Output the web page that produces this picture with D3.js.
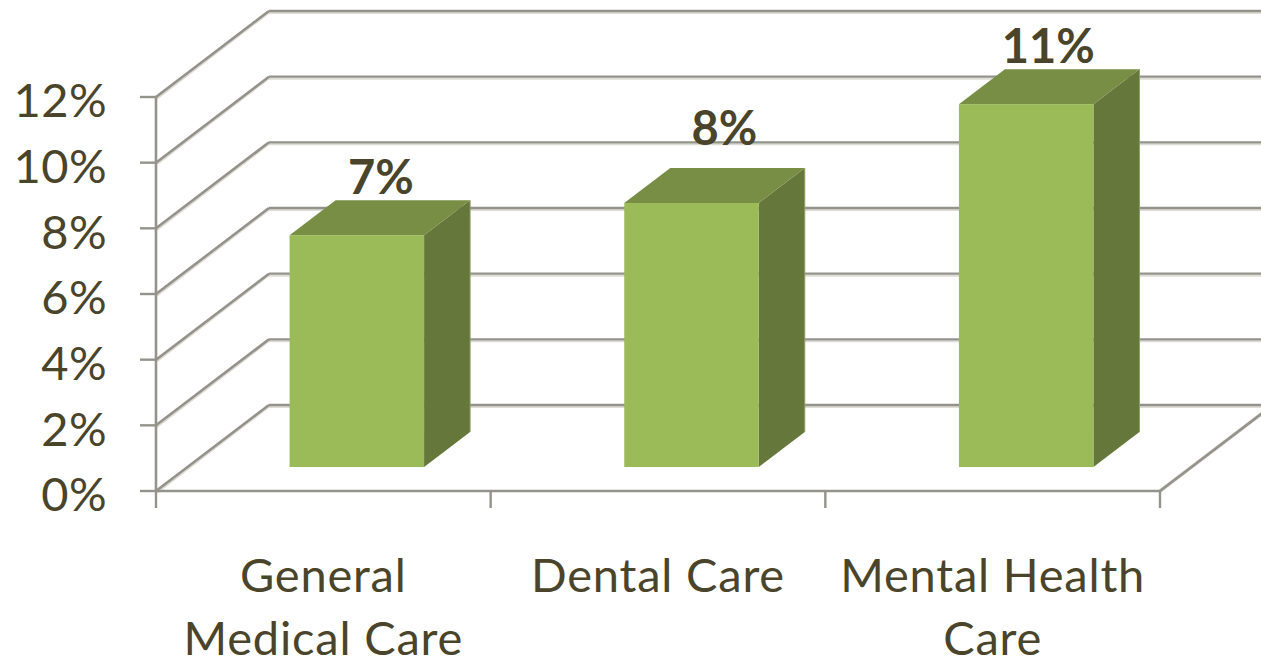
<!DOCTYPE html>
<html>
<head>
<meta charset="utf-8">
<script src="https://d3js.org/d3.v7.min.js"></script>
<style>
html, body { margin: 0; padding: 0; background: #fff; overflow: hidden; }
svg { display: block; }
text { font-family: Lato, "Open Sans", sans-serif; fill: #4a442a; }
</style>
</head>
<body>
<script>
var categories = [["General", "Medical Care"], ["Dental Care"], ["Mental Health", "Care"]];
var values = [7.06, 8.04, 11.05];
var valueLabels = ["7%", "8%", "11%"];
var yTicks = [0, 2, 4, 6, 8, 10, 12];

var width = 1261, height = 660;
var x0 = 156, x1 = 1160, yBase = 491, yTop = 97;
// how far the floor runs back into the picture
var depthX = 113, depthY = -86;

var svg = d3.select("body").append("svg").attr("width", width).attr("height", height);

var y = d3.scaleLinear().domain([0, 12]).range([yBase, yTop]);
var x = d3.scaleBand().domain(d3.range(categories.length)).range([x0, x1]);

var gridColor = "#93938b", shadowColor = "#dedcd6";

function line(g, a, b, c, w) {
  g.append("line").attr("x1", a[0]).attr("y1", a[1]).attr("x2", b[0]).attr("y2", b[1])
    .attr("stroke", c).attr("stroke-width", w);
}

var grid = svg.append("g");
yTicks.forEach(function(t) {
  var yy = y(t);
  // back wall line, then the slanted side wall
  line(grid, [x0 + depthX, yy + depthY + 2], [width, yy + depthY + 2], shadowColor, 2);
  line(grid, [x0 + depthX, yy + depthY], [width, yy + depthY], gridColor, 2.4);
  line(grid, [x0 + 1, yy + 1], [x0 + depthX, yy + depthY + 1], shadowColor, 3);
  line(grid, [x0, yy], [x0 + depthX, yy + depthY], gridColor, 2.6);
});
// floor edge on the right, runs off the picture
line(grid, [x1, yBase], [x1 + depthX, yBase + depthY], shadowColor, 3.8);
line(grid, [x1, yBase], [x1 + depthX, yBase + depthY], gridColor, 2.6);

// bars sit part way into the floor
var barOffX = 33.5, barOffY = -24, barDX = 46, barDY = -35;
var barW = 134.5;
var yBar = d3.scaleLinear().domain([0, 12]).range([yBase + barOffY, yTop + barOffY]);
// the labels do not sit evenly over the bars in the original
var labelShiftX = [24, 33, 22], labelGap = [6, 23, 6];

var bars = svg.append("g").selectAll("g").data(values).enter().append("g");
function barLeft(i) { return x(i) + (x.bandwidth() - barW) / 2 + barOffX; }

bars.append("path").attr("fill", "#65773a").attr("d", function(d, i) {
  var l = barLeft(i) + barW, t = yBar(d), b = yBar(0);
  return "M" + l + "," + t + "L" + (l + barDX) + "," + (t + barDY) + "L" + (l + barDX) + "," + (b + barDY) + "L" + l + "," + b + "Z";
});
bars.append("path").attr("fill", "#778e44").attr("d", function(d, i) {
  var l = barLeft(i), t = yBar(d);
  return "M" + l + "," + t + "L" + (l + barDX) + "," + (t + barDY) + "L" + (l + barW + barDX) + "," + (t + barDY) + "L" + (l + barW) + "," + t + "Z";
});
bars.append("rect").attr("fill", "#9bbb59")
  .attr("x", function(d, i) { return barLeft(i); })
  .attr("y", function(d) { return yBar(d); })
  .attr("width", barW)
  .attr("height", function(d) { return yBar(0) - yBar(d); });
// lighter rim on the right of the side face
bars.append("line").attr("stroke", "#8a9c66").attr("stroke-width", 1)
  .attr("x1", function(d, i) { return barLeft(i) + barW + barDX; })
  .attr("x2", function(d, i) { return barLeft(i) + barW + barDX; })
  .attr("y1", function(d) { return yBar(d) + barDY; })
  .attr("y2", yBar(0) + barDY);

bars.append("text")
  .attr("x", function(d, i) { return barLeft(i) + barW / 2 + labelShiftX[i]; })
  .attr("y", function(d, i) { return yBar(d) + barDY - labelGap[i]; })
  .attr("text-anchor", "middle")
  .attr("font-size", 47).attr("font-weight", 700)
  .text(function(d, i) { return valueLabels[i]; });

// axes
var axisY = svg.append("g").attr("transform", "translate(" + x0 + ",0)")
  .call(d3.axisLeft(y).offset(0).tickValues(yTicks).tickSize(16).tickPadding(33).tickFormat(function(d) { return d + "%"; }));
axisY.selectAll("text").attr("font-size", 47).style("font-family", "Lato").style("fill", "#4a442a")
  .attr("dy", "0.43em").attr("letter-spacing", 0.4);
axisY.selectAll("line").attr("stroke", gridColor).attr("stroke-width", 2.4);
axisY.select(".domain").attr("stroke", gridColor).attr("stroke-width", 2.6).attr("d", "M0," + yTop + "V" + yBase);

var xAxis = svg.append("g").attr("transform", "translate(0," + yBase + ")")
  .call(d3.axisBottom(d3.scaleLinear().domain([0, 3]).range([x0, x1])).offset(0).tickValues([0, 1, 2, 3]).tickSize(17).tickFormat(""));
xAxis.selectAll("line").attr("stroke", gridColor).attr("stroke-width", 2.4);
xAxis.select(".domain").attr("stroke", gridColor).attr("stroke-width", 2.6).attr("d", "M" + x0 + ",0H" + x1);

var cat = svg.append("g").selectAll("text").data(categories).enter().append("text")
  .attr("text-anchor", "middle").attr("font-size", 47).attr("letter-spacing", 0.8)
  .attr("x", function(d, i) { return x(i) + x.bandwidth() / 2; })
  .attr("y", 592);
cat.selectAll("tspan").data(function(d) { return d; }).enter().append("tspan")
  .attr("x", function() { return d3.select(this.parentNode).attr("x"); })
  .attr("dy", function(d, i) { return i ? 63 : 0; })
  .text(function(d) { return d; });
</script>
</body>
</html>
